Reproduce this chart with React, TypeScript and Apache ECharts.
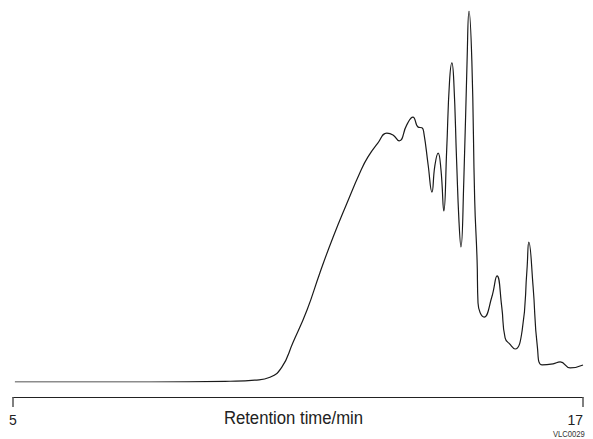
import React, { useEffect, useRef } from "react";
import * as echarts from "echarts";

// Retention time (min) and detector response (relative, 0-100)
const times: number[] = [
  5.04, 7.88, 9.57, 10.09, 10.41, 10.66, 10.89, 11.19, 11.46, 11.74, 12.03, 12.31, 12.47, 12.68,
  12.87, 13.0, 13.13, 13.29, 13.42, 13.53, 13.61, 13.65, 13.74, 13.82, 13.88, 13.95, 14.01, 14.07,
  14.13, 14.19, 14.24, 14.28, 14.34, 14.39, 14.43, 14.49, 14.56, 14.6, 14.66, 14.72, 14.77, 14.79,
  14.92, 15.08, 15.19, 15.29, 15.36, 15.46, 15.57, 15.72, 15.82, 15.86, 15.95, 16.04, 16.14, 16.37,
  16.52, 16.73, 17.0,
];
const response: number[] = [
  0, 0, 0.2, 0.5, 1.3, 4.0, 10.5, 19.4, 29.4, 39.1, 48.2, 56.6, 60.6, 64.4,
  67.1, 66.6, 65.0, 69.3, 71.4, 68.7, 68.5, 67.1, 58.5, 51.2, 58.2, 61.7, 57.2, 46.1,
  62.5, 81.0, 86.0, 81.0, 59.3, 43.1, 36.4, 54.0, 86.8, 100, 86.5, 49.0, 32.9, 21.3,
  17.5, 22.9, 28.6, 20.2, 11.9, 10.2, 8.9, 14.0, 30.2, 37.7, 25.6, 9.4, 4.6, 4.9,
  5.4, 3.8, 4.6,
];
const tickValues: number[] = [5, 17];
const axisTitle = "Retention time/min";
const codeLabel = "VLC0029";

const FONT = "'Liberation Sans', Arial, sans-serif";

export default function App() {
  const ref = useRef<HTMLDivElement>(null);
  useEffect(() => {
    if (!ref.current) return;
    const chart = echarts.init(ref.current, undefined, { renderer: "svg" });
    chart.setOption({
      animation: false,
      backgroundColor: "#ffffff",
      grid: { left: 13, right: 10, top: 11, bottom: 57, outerBoundsMode: "none", containLabel: false },
      xAxis: {
        type: "value",
        min: 5,
        max: 17,
        offset: 15,
        splitLine: { show: false },
        axisLine: { show: true, onZero: false, lineStyle: { color: "#222", width: 1 } },
        axisTick: {
          show: true,
          customValues: tickValues,
          length: 10,
          lineStyle: { color: "#555", width: 1.5 },
        },
        axisLabel: {
          show: true,
          customValues: tickValues,
          fontSize: 14,
          color: "#222",
          fontFamily: FONT,
          margin: 16,
          alignMaxLabel: "right",
        },
      },
      yAxis: { type: "value", min: 0, max: 100, show: false },
      series: [
        {
          type: "line",
          data: times.map((t, i) => [t, response[i]]),
          showSymbol: false,
          smooth: 0.5,
          lineStyle: { color: "#1a1a1a", width: 1.2 },
        },
      ],
      graphic: [
        {
          type: "text",
          x: 293.5,
          y: 418,
          scaleX: 0.88,
          style: {
            text: axisTitle,
            fill: "#222",
            font: `19px ${FONT}`,
            align: "center",
            verticalAlign: "middle",
          },
        },
        {
          type: "text",
          x: 553,
          y: 429,
          scaleX: 0.85,
          style: { text: codeLabel, fill: "#333", font: `9px ${FONT}`, align: "left", verticalAlign: "top" },
        },
      ],
    });
    return () => chart.dispose();
  }, []);
  return (
    <div
      ref={ref}
      style={{ position: "fixed", left: 0, top: 0, width: 593, height: 439 }}
    />
  );
}
